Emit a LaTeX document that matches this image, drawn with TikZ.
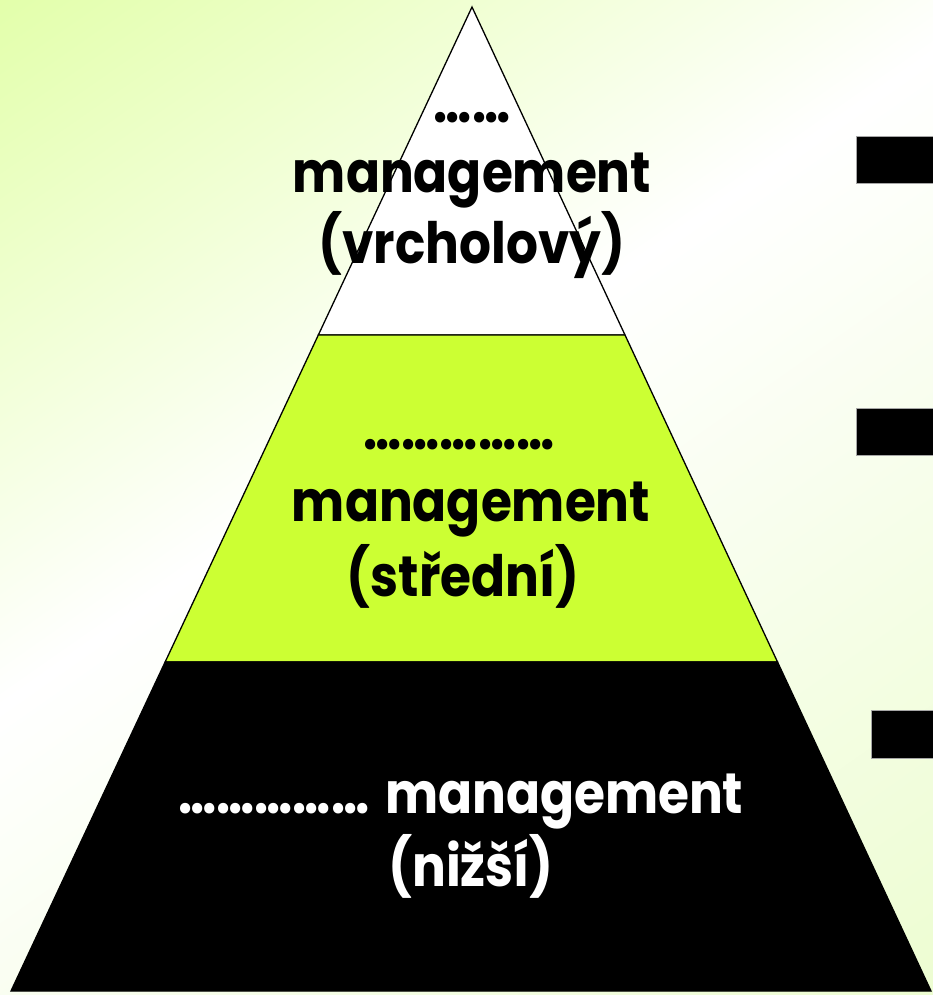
\documentclass[tikz,border=0pt]{standalone}
\usepackage{fontspec}
\setmainfont{Poppins}[FakeStretch=0.88]
\usetikzlibrary{calc}
\definecolor{bgA}{RGB}{212,255,128}
\definecolor{bgB}{RGB}{230,252,192}
\definecolor{midgreen}{HTML}{CCFF33}
\pgfdeclarehorizontalshading{bgshade}{100bp}{color(0bp)=(bgA); color(45bp)=(white); color(100bp)=(bgB)}
\begin{document}
\begin{tikzpicture}[x=1pt,y=-1pt,
  lbl/.style={font=\fontsize{57}{66}\selectfont\bfseries, inner sep=0pt, anchor=base},
  band/.style={draw=black, line width=1.3pt, line join=miter},
  marker/.style={fill=black, draw=gray!70, line width=0.8pt}]
\useasboundingbox (0,0) rectangle (933,995);
\shade[shading=bgshade, shading angle=-55] (0,0) rectangle (933,995);
% pyramid corners
\coordinate (apex) at (472,7);
\coordinate (bl) at (11,991);
\coordinate (br) at (931,991);
\coordinate (l1) at ($(apex)!0.3333!(bl)$);
\coordinate (r1) at ($(apex)!0.3333!(br)$);
\coordinate (l2) at ($(apex)!0.6656!(bl)$);
\coordinate (r2) at ($(apex)!0.6656!(br)$);
\filldraw[band, fill=white] (apex) -- (r1) -- (l1) -- cycle;
\filldraw[band, fill=midgreen] (l1) -- (r1) -- (r2) -- (l2) -- cycle;
\filldraw[band, fill=black] (l2) -- (r2) -- (br) -- (bl) -- cycle;
% markers on the right
\draw[marker] (856,136) rectangle (940,183);
\draw[marker] (856,408) rectangle (940,455);
\draw[marker] (871,710) rectangle (940,758);
% texts
\node[lbl] (t1) at (472,123) {……};
\node[lbl] (t2) at (472,193) {management};
\node[lbl] (t3) at (472,263) {(vrcholový)};
\node[lbl] (m1) at (459,449) {……………};
\node[lbl] (m2) at (471,521) {management};
\node[lbl] (m3) at (463,596) {(střední)};
\node[lbl, text=white] (b1) at (461,813) {……………\hspace{16pt}management};
\node[lbl, text=white] (b2) at (471,886) {(nižší)};
\end{tikzpicture}
\end{document}
